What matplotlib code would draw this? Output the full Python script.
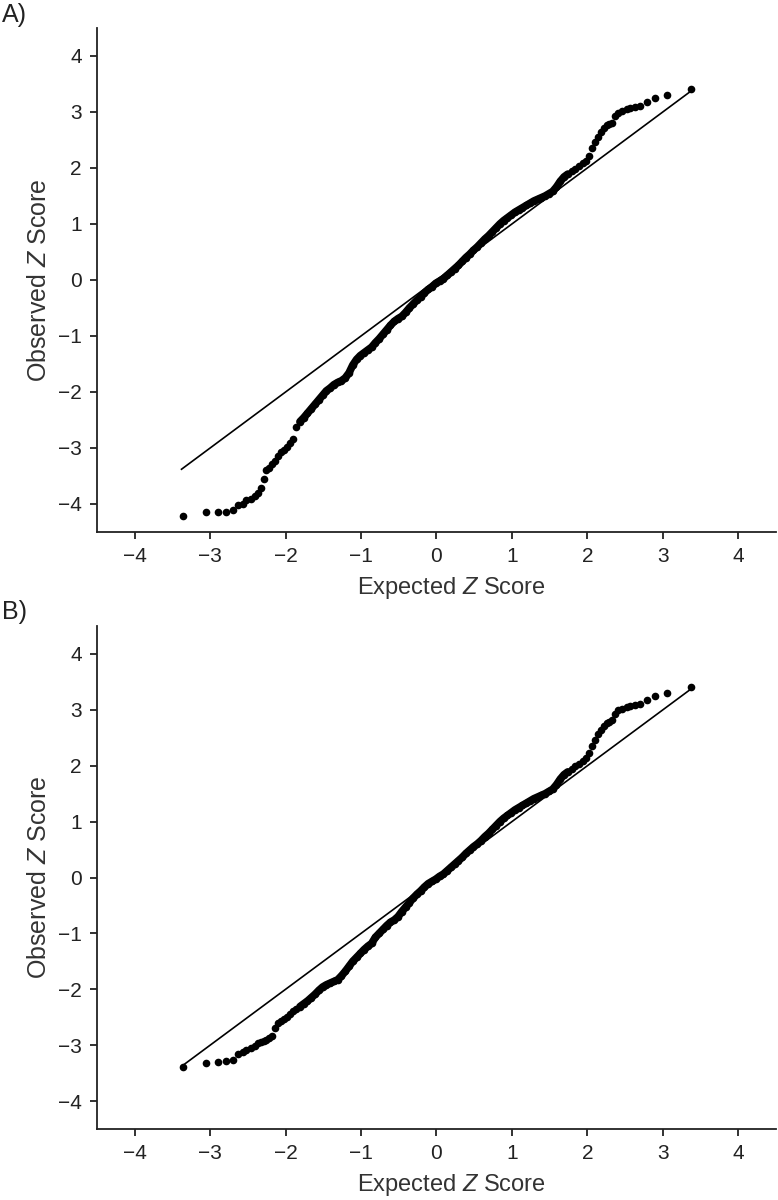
import matplotlib
matplotlib.use('Agg')
import matplotlib.pyplot as plt

plt.rcParams['font.family'] = ['Liberation Sans', 'DejaVu Sans']
plt.rcParams['mathtext.fontset'] = 'custom'
plt.rcParams['mathtext.rm'] = 'Liberation Sans'
plt.rcParams['mathtext.it'] = 'Liberation Sans:italic'

# expected z scores (shared by both panels)
expected = [-3.36, -3.05, -2.89, -2.79, -2.70, -2.63, -2.57, -2.52, -2.46, -2.41,
            -2.36, -2.32, -2.29, -2.26, -2.22, -2.18, -2.14, -2.10, -2.06, -2.02,
            -1.98, -1.94, -1.90, -1.86, -1.81, -1.76, -1.71, -1.66, -1.61, -1.56,
            -1.51, -1.46, -1.41, -1.36, -1.31, -1.26, -1.21, -1.16, -1.11, -1.06,
            -1.01, -0.96, -0.91, -0.86, -0.81, -0.76, -0.71, -0.66, -0.61, -0.56,
            -0.51, -0.46, -0.41, -0.36, -0.31, -0.26, -0.21, -0.16, -0.11, -0.06,
            -0.01, 0.04, 0.09, 0.14, 0.19, 0.24, 0.29, 0.34, 0.39, 0.44,
            0.49, 0.54, 0.59, 0.64, 0.69, 0.74, 0.79, 0.84, 0.89, 0.94,
            0.99, 1.04, 1.09, 1.14, 1.19, 1.24, 1.29, 1.34, 1.39, 1.44,
            1.49, 1.54, 1.59, 1.64, 1.69, 1.74, 1.79, 1.84, 1.89, 1.94,
            1.98, 2.02, 2.06, 2.10, 2.14, 2.18, 2.22, 2.26, 2.29, 2.32,
            2.36, 2.41, 2.46, 2.52, 2.57, 2.63, 2.70, 2.79, 2.89, 3.06,
            3.38]

observed_a = [-4.21, -4.15, -4.14, -4.14, -4.11, -4.01, -4.00, -3.93, -3.91, -3.85,
              -3.80, -3.72, -3.56, -3.39, -3.35, -3.29, -3.23, -3.14, -3.08, -3.03,
              -2.98, -2.92, -2.84, -2.62, -2.53, -2.46, -2.38, -2.30, -2.22, -2.14,
              -2.06, -1.98, -1.93, -1.87, -1.83, -1.80, -1.75, -1.66, -1.52, -1.42,
              -1.35, -1.30, -1.25, -1.20, -1.12, -1.05, -0.97, -0.89, -0.81, -0.74,
              -0.69, -0.65, -0.58, -0.50, -0.43, -0.36, -0.30, -0.23, -0.17, -0.12,
              -0.06, -0.02, 0.02, 0.08, 0.14, 0.20, 0.26, 0.33, 0.40, 0.46,
              0.53, 0.59, 0.66, 0.73, 0.79, 0.86, 0.93, 1.00, 1.06, 1.11,
              1.16, 1.21, 1.25, 1.29, 1.33, 1.37, 1.41, 1.44, 1.47, 1.50,
              1.54, 1.58, 1.66, 1.76, 1.84, 1.89, 1.94, 1.99, 2.03, 2.08,
              2.13, 2.22, 2.35, 2.46, 2.56, 2.64, 2.71, 2.76, 2.79, 2.81,
              2.93, 2.99, 3.02, 3.05, 3.07, 3.09, 3.11, 3.17, 3.25, 3.31,
              3.41]

observed_b = [-3.40, -3.32, -3.31, -3.28, -3.27, -3.16, -3.12, -3.08, -3.05, -3.01,
              -2.96, -2.94, -2.92, -2.91, -2.88, -2.83, -2.70, -2.60, -2.57, -2.54,
              -2.50, -2.45, -2.39, -2.35, -2.31, -2.26, -2.21, -2.15, -2.09, -2.02,
              -1.96, -1.92, -1.89, -1.86, -1.83, -1.76, -1.68, -1.59, -1.50, -1.43,
              -1.36, -1.29, -1.23, -1.18, -1.07, -1.00, -0.93, -0.86, -0.80, -0.76,
              -0.70, -0.61, -0.53, -0.45, -0.37, -0.30, -0.24, -0.17, -0.11, -0.07,
              -0.03, 0.02, 0.06, 0.12, 0.18, 0.24, 0.30, 0.36, 0.43, 0.49,
              0.55, 0.60, 0.66, 0.73, 0.79, 0.86, 0.93, 1.00, 1.06, 1.11,
              1.16, 1.21, 1.25, 1.29, 1.33, 1.37, 1.41, 1.44, 1.47, 1.50,
              1.54, 1.58, 1.66, 1.76, 1.84, 1.89, 1.94, 1.99, 2.03, 2.08,
              2.13, 2.22, 2.35, 2.46, 2.56, 2.64, 2.71, 2.76, 2.79, 2.81,
              2.93, 2.99, 3.02, 3.05, 3.07, 3.09, 3.11, 3.17, 3.25, 3.31,
              3.41]

ref_line = [-3.38, 3.40]
ticks = [-4, -3, -2, -1, 0, 1, 2, 3, 4]

# the middle of the sample is so dense that the dots merge into a band
dense = slice(24, 96)


def qq_panel(ax, observed):
    ax.plot(ref_line, ref_line, color='black', linewidth=1.2, zorder=2)
    ax.plot(expected[dense], observed[dense], '-', color='black', linewidth=5.5,
            solid_capstyle='round', solid_joinstyle='round', zorder=3)
    ax.plot(expected, observed, 'o', color='black', markersize=5.5,
            markeredgewidth=0, zorder=3)
    ax.set_xlim(-4.5, 4.5)
    ax.set_ylim(-4.5, 4.5)
    ax.set_xticks(ticks)
    ax.set_yticks(ticks)
    ax.set_xticklabels(['\u2212%d' % -t if t < 0 else str(t) for t in ticks])
    ax.set_yticklabels(['\u2212%d' % -t if t < 0 else str(t) for t in ticks])
    for side in ['top', 'right']:
        ax.spines[side].set_visible(False)
    for side in ['left', 'bottom']:
        ax.spines[side].set_linewidth(1.3)
        ax.spines[side].set_color('#222222')
    ax.tick_params(direction='out', length=5, width=1.3, color='#222222',
                   labelsize=15, pad=6, labelcolor='#222222')
    ax.set_xlabel('Expected $Z$ Score', fontsize=17, color='#333333')
    ax.set_ylabel('Observed $Z$ Score', fontsize=18, color='#333333')
    ax.xaxis.set_label_coords(0.522, -0.085)
    ax.yaxis.set_label_coords(-0.068, 0.5)


fig = plt.figure(figsize=(7.78, 12), dpi=100)
ax_a = fig.add_axes([0.1247, 0.5567, 0.8727, 0.42])
ax_b = fig.add_axes([0.1247, 0.0592, 0.8727, 0.4191])
qq_panel(ax_a, observed_a)
qq_panel(ax_b, observed_b)

fig.text(0.003, 0.9875, 'A)', fontsize=18, va='center', ha='left', color='#222222')
fig.text(0.003, 0.49, 'B)', fontsize=18, va='center', ha='left', color='#222222')

plt.savefig('out.png', dpi=100)
